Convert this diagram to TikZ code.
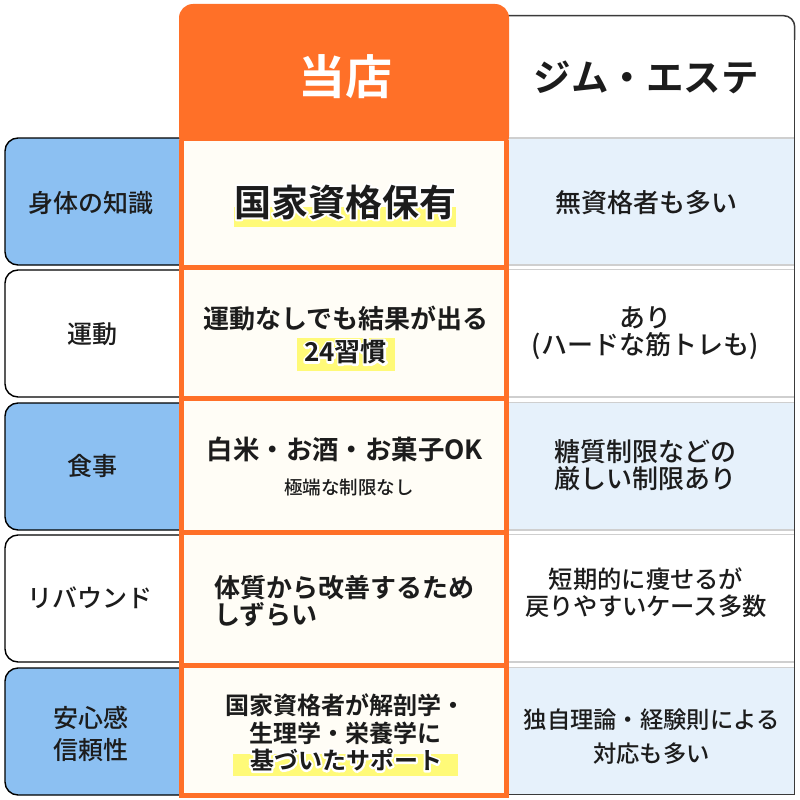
\documentclass[tikz,border=0pt]{standalone}
\usepackage{fontspec}
\setmainfont{Noto Sans CJK JP Medium}[BoldFont={Noto Sans CJK JP Bold}]
\definecolor{orangeC}{HTML}{FF7028}
\definecolor{blueC}{HTML}{8CC0F2}
\definecolor{paleblue}{HTML}{E6F1FB}
\definecolor{creamC}{HTML}{FFFDF6}
\definecolor{yellowC}{HTML}{FFFA78}
\definecolor{inkC}{HTML}{1C1C1C}
\definecolor{ruleC}{HTML}{CFCFCF}
\definecolor{frameC}{HTML}{3A3A3A}
\newcommand{\fs}[2]{\fontsize{#1pt}{#2pt}\selectfont}
\newcommand{\halo}[1]{\makebox[0pt][l]{\special{pdf:code q 2 Tr 4 w 1 j 1 1 1 RG 1 1 1 rg}#1\special{pdf:code Q}}#1}
\tikzset{
 x=1pt,y=-1pt,
 rowlabel/.style={draw=black,line width=1.4pt,rounded corners=13pt},
 cellbox/.style={fill=creamC},
 txt/.style={text=inkC,align=center,inner sep=0pt,anchor=center},
 keepleft/.style={text=inkC,align=left,inner sep=0pt,anchor=west},
 labeltxt/.style={txt,font=\fs{25}{32}},
 maintxt/.style={txt,font=\fs{26}{27}\bfseries},
 righttxt/.style={txt,font=\fs{25}{27}},
 hilite/.style={fill=yellowC},
 rulegray/.style={draw=ruleC,line width=1.6pt},
 orangebar/.style={fill=orangeC}
}
\begin{document}
\begin{tikzpicture}
\useasboundingbox (0,0) rectangle (800,800);
\fill[white] (0,0) rectangle (800,800);
% left labels
\draw[rowlabel,fill=blueC] (190,138) -- (5,138) -- (5,265) -- (190,265);
\draw[rowlabel,fill=white] (190,270) -- (5,270) -- (5,397) -- (190,397);
\draw[rowlabel,fill=blueC] (190,403) -- (5,403) -- (5,530) -- (190,530);
\draw[rowlabel,fill=white] (190,535) -- (5,535) -- (5,662) -- (190,662);
\draw[rowlabel,fill=blueC] (190,668) -- (5,668) -- (5,795) -- (190,795);
% right column
\fill[paleblue] (508,138) rectangle (795,265);
\fill[paleblue] (508,403) rectangle (795,530);
\fill[paleblue] (508,668) rectangle (795,795);
\draw[rulegray] (508,138) -- (795,138);
\draw[rulegray] (508,265) -- (795,265) (508,269.5) -- (795,269.5);
\draw[rulegray] (508,397) -- (795,397) (508,402.5) -- (795,402.5);
\draw[rulegray] (508,530) -- (795,530) (508,534.5) -- (795,534.5);
\draw[rulegray] (508,662) -- (795,662) (508,667.5) -- (795,667.5);
\draw[frameC,line width=1.5pt,rounded corners=11pt] (500,15.7) -- (794.7,15.7) -- (794.7,40) ;
\draw[frameC,line width=1.5pt] (794.7,30) -- (794.7,794.7) -- (500,794.7);
% orange column
\fill[orangeC,rounded corners=14pt] (179,150) -- (179,4) -- (509,4) -- (509,150) -- cycle;
\fill[orangeC] (179,140) rectangle (509,797.5);
\fill[cellbox] (183.5,141) rectangle (504.3,265);
\fill[cellbox] (183.5,270) rectangle (504.3,396);
\fill[cellbox] (183.5,401) rectangle (504.3,530);
\fill[cellbox] (183.5,535) rectangle (504.3,663);
\fill[cellbox] (183.5,668) rectangle (504.3,793);
% highlights
\fill[hilite] (234,207) rectangle (456,227);
\fill[hilite] (297,338) rectangle (395,371);
\fill[hilite] (233,754) rectangle (458,776);
% header
\node[txt,text=white,font=\fs{47}{47}\bfseries] (own) at (345,77) {当店};
\node[txt,font=\fs{37.5}{37.5}\bfseries] (other) at (646,77) {ジム・エステ};
% labels
\node[labeltxt] (l1) at (91,203) {身体の知識};
\node[labeltxt] (l2) at (92,334) {運動};
\node[labeltxt] (l3) at (92,466) {食事};
\node[labeltxt] (l4) at (90,598) {リバウンド};
\node[labeltxt] (l5) at (91,734) {安心感\\信頼性};
% centre
\node[txt,font=\fs{37}{37}\bfseries] (c1) at (345,202) {\halo{国家資格保有}};
\node[maintxt] (c2a) at (346,318) {運動なしでも結果が出る};
\node[maintxt] (c2b) at (345.5,352) {\halo{24習慣}};
\node[maintxt,font=\fs{26.4}{27}\bfseries] (c3a) at (345,449) {白米・お酒・お菓子OK};
\node[txt,font=\fs{18.5}{20}] (c3b) at (349,487) {極端な制限なし};
\node[keepleft,font=\fs{26}{27}\bfseries] (c4) at (214,601) {体質から改善するため\\しずらい};
\node[txt,font=\fs{24}{28}\bfseries] (c5a) at (345,719) {国家資格者が解剖学・\\生理学・栄養学に};
\node[txt,font=\fs{24}{24}\bfseries] (c5b) at (346,760) {\halo{基づいたサポート}};
% right
\node[righttxt,font=\fs{26}{27}] (r1) at (646,203) {無資格者も多い};
\node[righttxt,font=\fs{26}{27}] (r2) at (645,333) {あり\\(ハードな筋トレも)};
\node[righttxt,font=\fs{26}{27}] (r3) at (645,465.5) {糖質制限などの\\厳しい制限あり};
\node[righttxt,font=\fs{24.3}{27}] (r4) at (646,592.5) {短期的に痩せるが\\戻りやすいケース多数};
\node[righttxt,font=\fs{23.3}{34}] (r5) at (651.5,737) {独自理論・経験則による\\対応も多い};
\end{tikzpicture}
\end{document}
